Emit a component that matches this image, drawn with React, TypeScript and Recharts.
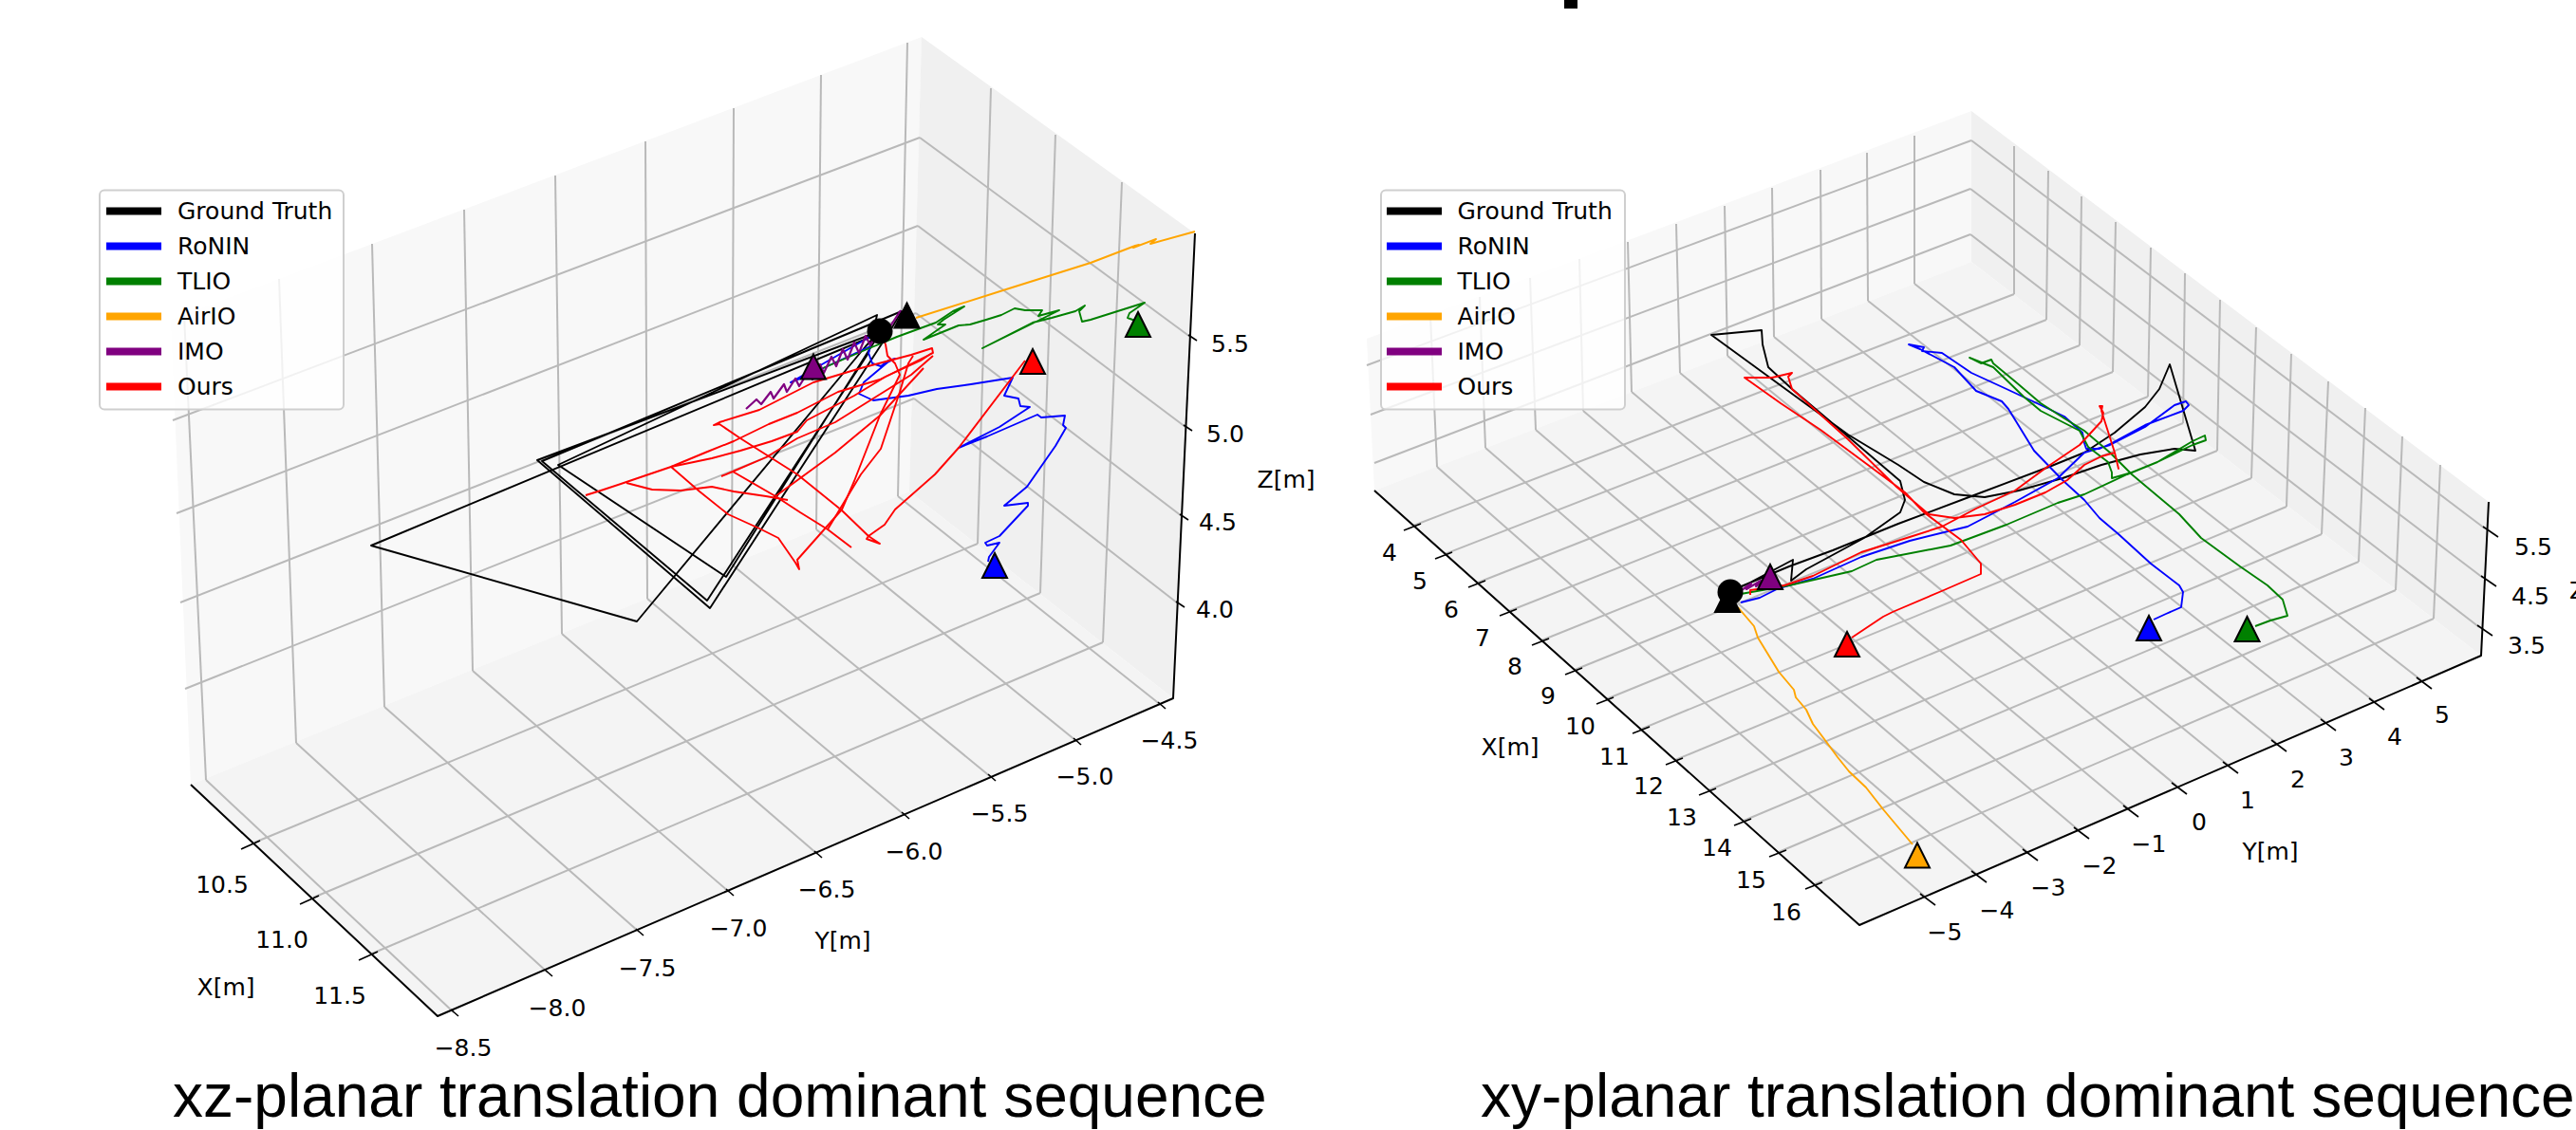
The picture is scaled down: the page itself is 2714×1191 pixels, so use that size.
import React from 'react'
import { ScatterChart, Scatter, XAxis, YAxis } from 'recharts'

type Row = number[]

const WIDTH = 2714
const HEIGHT = 1191

const seriesNames = ['Ground Truth', 'RoNIN', 'TLIO', 'AirIO', 'IMO', 'Ours']
const seriesColors = ['#000000', '#0000ff', '#008000', '#ffa500', '#800080', '#ff0000']
const legendRows = [222.5, 259.5, 296.5, 333.5, 370.5, 407.5]

// left panel box
const leftWallA: Row[] = [[180, 337], [971, 39], [958, 518], [201, 827]]
const leftWallB: Row[] = [[971, 39], [1259, 246], [1236, 736], [958, 518]]
const leftFloor: Row[] = [[958, 518], [1236, 736], [461, 1071], [201, 827]]

const leftYTop: Row[] = [[194, 332], [294, 294], [392, 257], [489, 221], [585, 185], [680, 149], [773, 114], [865, 79], [956, 45]]
const leftYBase: Row[] = [[217, 822], [312, 783], [405, 745], [498, 707], [592, 668], [682, 631], [771, 595], [860, 558], [946, 523]]
const leftYTick: Row[] = [[478, 1067], [577, 1025], [673, 982], [768, 940], [861, 900], [953, 859], [1044, 819], [1134, 781], [1223, 743]]
const leftYLabels = ['−8.5', '−8.0', '−7.5', '−7.0', '−6.5', '−6.0', '−5.5', '−5.0', '−4.5']
const leftYLabelPos: Row[] = [[488, 1104], [587, 1062], [682, 1020], [778, 978], [871, 937], [963, 897], [1053, 857], [1143, 818], [1232, 780]]

const leftXTick: Row[] = [[268, 888], [330, 946], [392, 1005]]
const leftXBase: Row[] = [[1030, 573], [1096, 625], [1162, 677]]
const leftXTop: Row[] = [[1044, 93], [1112, 142], [1182, 192]]
const leftXLabels = ['10.5', '11.0', '11.5']
const leftXLabelPos: Row[] = [[234, 932], [297, 990], [358, 1049]]

const leftZBack: Row[] = [[969, 145], [967, 238], [965, 330], [963, 420]]
const leftZEdge: Row[] = [[182, 443], [186, 541], [190, 635], [195, 726]]
const leftZTick: Row[] = [[1254, 355], [1249, 450], [1245, 544], [1241, 636]]
const leftZLabels = ['5.5', '5.0', '4.5', '4.0']
const leftZLabelPos: Row[] = [[1296, 362], [1291, 457], [1283, 550], [1280, 642]]

// left panel trajectories
const leftTruth: Row[] = [[927, 349], [566, 485], [748, 641], [937, 350], [950, 328], [571, 486], [745, 633], [915, 372], [924, 332], [588, 490], [765, 608], [920, 362], [925, 352], [391, 575], [671, 655], [912, 365], [927, 349]]
const leftRonin: Row[] = [[927, 349], [833, 403], [850, 396], [917, 365], [915, 372], [919, 383], [928, 386], [936, 380], [943, 378], [935, 382], [910, 403], [905, 415], [920, 422], [957, 417], [987, 410], [1023, 405], [1067, 398], [1058, 417], [1073, 420], [1075, 428], [1085, 429], [1053, 450], [1010, 472], [1040, 460], [1093, 437], [1097, 440], [1122, 438], [1120, 448], [1123, 451], [1112, 470], [1082, 513], [1058, 533], [1083, 530], [1083, 533], [1053, 565], [1038, 572], [1040, 575], [1053, 572], [1042, 587], [1041, 592]]
const leftTlio: Row[] = [[867, 388], [916, 367], [945, 355], [986, 340], [1004, 328], [1016, 323], [994, 337], [988, 342], [996, 342], [973, 358], [1010, 343], [1022, 342], [1039, 337], [1055, 332], [1069, 325], [1080, 327], [1098, 327], [1094, 333], [1116, 327], [1035, 367], [1088, 340], [1108, 335], [1133, 328], [1143, 322], [1137, 328], [1140, 339], [1149, 337], [1206, 319], [1190, 330], [1188, 335], [1196, 338]]
const leftAirio: Row[] = [[965, 335], [1060, 305], [1149, 277], [1196, 259], [1200, 258], [1194, 261], [1218, 252], [1212, 257], [1259, 244]]
const leftImo: Row[] = [[786, 431], [797, 421], [802, 426], [812, 413], [815, 420], [826, 405], [829, 413], [838, 399], [842, 407], [852, 391], [856, 400], [864, 384], [868, 393], [876, 376], [881, 386], [888, 368], [893, 379], [900, 361], [905, 372], [912, 354], [917, 364], [925, 347], [930, 356], [949, 327]]
const leftOursA: Row[] = [[927, 349], [933, 363], [935, 375], [943, 383], [948, 395], [927, 438], [900, 507], [887, 537], [840, 590], [842, 600], [838, 593], [820, 567], [800, 557], [767, 542], [737, 518], [707, 492], [743, 477], [773, 465], [810, 447], [840, 435], [883, 413], [927, 400], [983, 372], [982, 367], [960, 374], [907, 388], [857, 403], [800, 432], [758, 445], [752, 448], [758, 447], [780, 462], [840, 500], [887, 538], [915, 565], [927, 573], [913, 568], [915, 565], [932, 553], [943, 537], [985, 500], [1010, 472], [1080, 380]]
const leftOursB: Row[] = [[617, 522], [633, 517], [660, 508], [707, 492], [750, 483], [780, 475], [813, 465], [840, 455], [850, 443], [900, 417], [933, 397], [970, 380], [982, 372]]
const leftOursC: Row[] = [[660, 509], [687, 516], [717, 517], [750, 513], [773, 518], [807, 523], [830, 527]]
const leftOursD: Row[] = [[760, 502], [772, 497], [807, 482], [840, 462], [880, 445], [920, 420], [960, 395], [983, 375]]
const leftOursE: Row[] = [[772, 497], [817, 523], [843, 540], [872, 558], [897, 577]]
const leftOursF: Row[] = [[872, 558], [907, 500], [928, 473], [948, 413], [957, 383], [962, 375]]
const leftOursG: Row[] = [[817, 523], [880, 477], [927, 438], [973, 388]]

// right panel box
const rightWallA: Row[] = [[1440, 357], [2077, 117], [2077, 276], [1448, 517]]
const rightWallB: Row[] = [[2077, 117], [2622, 529], [2614, 691], [2077, 276]]
const rightFloor: Row[] = [[2077, 276], [2614, 691], [1959, 975], [1448, 517]]

const rightYTop: Row[] = [[1507, 333], [1559, 313], [1612, 293], [1664, 273], [1715, 255], [1766, 236], [1817, 217], [1867, 198], [1918, 179], [1967, 161], [2017, 143]]
const rightYBase: Row[] = [[1514, 492], [1565, 472], [1618, 453], [1668, 433], [1719, 413], [1770, 393], [1820, 375], [1869, 355], [1919, 336], [1968, 317], [2017, 299]]
const rightYTick: Row[] = [[2028, 945], [2082, 921], [2136, 898], [2190, 875], [2242, 852], [2293, 828], [2347, 806], [2398, 783], [2450, 761], [2501, 739], [2551, 717]]
const rightYLabels = ['−5', '−4', '−3', '−2', '−1', '0', '1', '2', '3', '4', '5']
const rightYLabelPos: Row[] = [[2049, 982], [2104, 959], [2158, 935], [2212, 912], [2264, 889], [2317, 866], [2368, 843], [2421, 821], [2472, 798], [2523, 776], [2573, 753]]

const rightXTick: Row[] = [[1489, 554], [1522, 584], [1557, 614], [1590, 644], [1624, 675], [1659, 706], [1692, 737], [1730, 768], [1765, 801], [1800, 833], [1837, 865], [1874, 898], [1912, 932]]
const rightXBase: Row[] = [[2122, 310], [2156, 337], [2191, 364], [2226, 392], [2263, 418], [2300, 446], [2336, 475], [2372, 504], [2409, 534], [2446, 563], [2485, 592], [2524, 622], [2564, 652]]
const rightXTop: Row[] = [[2122, 154], [2158, 180], [2193, 207], [2229, 234], [2266, 261], [2302, 288], [2339, 316], [2377, 345], [2414, 373], [2453, 402], [2492, 430], [2531, 460], [2571, 490]]
const rightXLabels = ['4', '5', '6', '7', '8', '9', '10', '11', '12', '13', '14', '15', '16']
const rightXLabelPos: Row[] = [[1464, 582], [1496, 612], [1529, 642], [1562, 672], [1596, 702], [1631, 733], [1665, 765], [1701, 797], [1737, 828], [1772, 861], [1809, 893], [1845, 927], [1882, 961]]

const rightZBack: Row[] = [[2077, 148], [2076, 199], [2076, 247]]
const rightZEdge: Row[] = [[1440, 385], [1444, 437], [1448, 488]]
const rightZTick: Row[] = [[2618, 557], [2616, 609], [2612, 661]]
const rightZLabels = ['5.5', '4.5', '3.5']
const rightZLabelPos: Row[] = [[2669, 576], [2666, 628], [2662, 680]]

// right panel trajectories
const rightTruth: Row[] = [[1825, 622], [1885, 597], [1931, 580], [2000, 552], [2077, 523], [2159, 492], [2196, 477], [2228, 456], [2260, 429], [2275, 410], [2286, 384], [2313, 475], [2291, 473], [2255, 479], [2214, 490], [2173, 504], [2127, 517], [2091, 524], [2059, 521], [2027, 508], [2000, 490], [1947, 458], [1803, 353], [1856, 348], [1857, 363], [1863, 387], [1888, 410], [1947, 460], [2002, 507], [2007, 527], [2002, 540], [1964, 567], [1903, 600], [1887, 612], [1889, 590], [1840, 616], [1825, 622]]
const rightRonin: Row[] = [[2269, 653], [2282, 647], [2298, 640], [2300, 624], [2296, 617], [2266, 594], [2232, 563], [2212, 546], [2196, 527], [2173, 506], [2143, 475], [2116, 431], [2109, 423], [2082, 412], [2059, 387], [2023, 368], [2011, 363], [2027, 366], [2025, 370], [2046, 372], [2077, 393], [2114, 410], [2146, 425], [2175, 439], [2194, 456], [2196, 467], [2198, 473], [2212, 473], [2225, 467], [2260, 448], [2300, 433], [2306, 427], [2303, 423], [2291, 427], [2260, 450], [2223, 469], [2196, 477], [2168, 504], [2123, 529], [2073, 555], [2012, 570], [1961, 587], [1910, 610], [1874, 620], [1854, 630], [1834, 635]]
const rightTlio: Row[] = [[1834, 626], [1885, 617], [1951, 602], [1977, 590], [2055, 575], [2114, 553], [2168, 530], [2196, 521], [2241, 500], [2273, 487], [2310, 469], [2324, 464], [2323, 459], [2310, 465], [2273, 487], [2246, 498], [2225, 504], [2225, 498], [2221, 487], [2200, 471], [2191, 454], [2150, 433], [2132, 418], [2100, 387], [2075, 377], [2087, 383], [2098, 379], [2100, 383], [2123, 402], [2150, 425], [2175, 441], [2196, 454], [2223, 477], [2246, 500], [2296, 542], [2319, 567], [2360, 597], [2389, 617], [2405, 632], [2410, 649], [2392, 654], [2376, 660]]
const rightAirio: Row[] = [[1831, 640], [1848, 660], [1852, 672], [1874, 708], [1890, 727], [1892, 735], [1903, 748], [1910, 763], [1925, 783], [1936, 798], [1948, 813], [1966, 830], [1984, 853], [2015, 890]]
const rightImo: Row[] = [[1832, 624], [1845, 615], [1840, 621], [1855, 612], [1850, 618], [1862, 610]]
const rightOurs: Row[] = [[1844, 627], [1844, 622], [1880, 617], [1910, 607], [1961, 582], [2012, 566], [2046, 555], [2082, 536], [2123, 517], [2157, 492], [2191, 469], [2214, 444], [2216, 435], [2212, 428], [2215, 428], [2214, 433], [2228, 477], [2232, 494], [2228, 477], [2214, 481], [2196, 490], [2178, 506], [2155, 519], [2123, 532], [2091, 542], [2059, 546], [2032, 542], [1998, 513], [1947, 463], [1888, 410], [1884, 397], [1888, 393], [1867, 398], [1838, 398], [1876, 425], [1918, 453], [1968, 490], [2007, 519], [2027, 540], [2066, 569], [2087, 594], [2087, 605], [2048, 622], [1994, 645], [1984, 650], [1951, 672]]

// end-of-run triangles, order follows seriesColors
const leftEnds: Row[] = [[955.5, 332.5], [1048, 596], [1199, 342], [857, 386.5], [1088, 381]]
const leftEndColors = ['#000000', '#0000ff', '#008000', '#800080', '#ff0000']
const rightEnds: Row[] = [[1820, 632], [2264, 662], [2367.5, 663], [2020, 901.5], [1865, 608], [1946, 679]]
const startDots: Row[] = [[927, 349], [1823, 624]]

const cutTitleGlyph: Row[] = [[1648, 0], [1662, 0], [1662, 9], [1648, 9]]

const titles = ['xz-planar translation dominant sequence', 'xy-planar translation dominant sequence']
const titlePos: Row[] = [[182, 1177], [1560, 1177]]

const GRID = '#b9b9b9'
const TICK_FONT = '"DejaVu Sans"'
const TICK_SIZE = 25

const toPoints = (rows: Row[]) => rows.map(([x, y]) => ({ x, y }))
const NoMark = () => <g />

let uid = 0
function trace(rows: Row[], stroke: string, strokeWidth = 1.9) {
  return (
    <Scatter
      key={`t${uid++}`}
      data={toPoints(rows)}
      dataKey="y"
      lineType="joint"
      line={{ stroke, strokeWidth, fill: 'none', strokeLinejoin: 'round' }}
      shape={NoMark}
      isAnimationActive={false}
    />
  )
}

function pane(rows: Row[], fill: string) {
  return (
    <Scatter
      key={`p${uid++}`}
      data={toPoints([...rows, rows[0]])}
      dataKey="y"
      lineType="joint"
      line={{ stroke: 'none', fill }}
      shape={NoMark}
      isAnimationActive={false}
    />
  )
}

const segments = (a: Row[], b: Row[], stroke = GRID, w = 2) => a.map((p, i) => trace([p, b[i]], stroke, w))

const tickMarks = (anchors: Row[], from: Row, to: Row) =>
  anchors.map(p => trace([[p[0] + from[0], p[1] + from[1]], [p[0] + to[0], p[1] + to[1]]], '#000000', 1.6))

function labels(texts: string[], pos: Row[], fontSize = TICK_SIZE, fontFamily = TICK_FONT, anchor = 'middle', baseline = 'central') {
  const data = texts.map((text, i) => ({ x: pos[i][0], y: pos[i][1], text }))
  const Label = (p: any) => (
    <text x={p.cx} y={p.cy} fontSize={fontSize} fontFamily={fontFamily} textAnchor={anchor} dominantBaseline={baseline} fill="#000">
      {p.payload?.text ?? p.text}
    </text>
  )
  return <Scatter key={`l${uid++}`} data={data} dataKey="y" shape={Label} isAnimationActive={false} />
}

function triangles(rows: Row[], colors: string[]) {
  return rows.map((r, i) => {
    const Tri = (p: any) => (
      <polygon
        points={`${p.cx},${p.cy - 13} ${p.cx + 13},${p.cy + 13} ${p.cx - 13},${p.cy + 13}`}
        fill={colors[i]}
        stroke="#000"
        strokeWidth={2}
        strokeLinejoin="miter"
      />
    )
    return <Scatter key={`m${uid++}`} data={toPoints([r])} dataKey="y" shape={Tri} isAnimationActive={false} />
  })
}

const Dot = (p: any) => <circle cx={p.cx} cy={p.cy} r={13.5} fill="#000" />

function legend(boxLeft: number, boxTop: number, swatchLeft: number, textLeft: number) {
  const Box = (p: any) => (
    <rect x={p.cx} y={p.cy} width={257} height={231} rx={5} fill="#fff" fillOpacity={0.8} stroke="#cfcfcf" strokeWidth={2} />
  )
  return [
    <Scatter key={`b${uid++}`} data={toPoints([[boxLeft, boxTop]])} dataKey="y" shape={Box} isAnimationActive={false} />,
    ...seriesColors.map((c, i) => trace([[swatchLeft, legendRows[i]], [swatchLeft + 58, legendRows[i]]], c, 8)),
    labels(seriesNames, legendRows.map(y => [textLeft, y]), TICK_SIZE, TICK_FONT, 'start'),
  ]
}

export default function App() {
  uid = 0
  return (
    <div style={{ position: 'fixed', left: 0, top: 0, width: WIDTH, height: HEIGHT, background: '#fff', overflow: 'hidden' }}>
      <ScatterChart width={WIDTH} height={HEIGHT} margin={{ top: 0, right: 0, bottom: 0, left: 0 }}>
        <XAxis type="number" dataKey="x" domain={[0, WIDTH]} hide />
        <YAxis type="number" dataKey="y" domain={[0, HEIGHT]} reversed hide />

        {pane(leftWallA, '#f8f8f8')}
        {pane(leftWallB, '#f0f0f0')}
        {pane(leftFloor, '#f4f4f4')}
        {pane(rightWallA, '#f8f8f8')}
        {pane(rightWallB, '#f0f0f0')}
        {pane(rightFloor, '#f4f4f4')}

        {segments(leftYTop, leftYBase)}
        {segments(leftYBase, leftYTick)}
        {segments(leftXTick, leftXBase)}
        {segments(leftXBase, leftXTop)}
        {segments(leftZEdge, leftZBack)}
        {segments(leftZBack, leftZTick)}

        {segments(rightYTop, rightYBase)}
        {segments(rightYBase, rightYTick)}
        {segments(rightXTick, rightXBase)}
        {segments(rightXBase, rightXTop)}
        {segments(rightZEdge, rightZBack)}
        {segments(rightZBack, rightZTick)}

        {trace([[201, 827], [461, 1071], [1236, 736], [1259, 246]], '#000000', 2)}
        {trace([[1448, 517], [1959, 975], [2614, 691], [2622, 529]], '#000000', 2)}

        {tickMarks(leftXTick, [-14, 7], [6, -2])}
        {tickMarks(leftYTick, [-3, -3], [5, 4])}
        {tickMarks(leftZTick, [-2, -2], [7, 4])}
        {tickMarks(rightXTick, [-10, 5], [8, -2])}
        {tickMarks(rightYTick, [-5, -3], [11, 9])}
        {tickMarks(rightZTick, [-2, -2], [14, 9])}

        {labels(leftYLabels, leftYLabelPos)}
        {labels(leftXLabels, leftXLabelPos)}
        {labels(leftZLabels, leftZLabelPos)}
        {labels(rightYLabels, rightYLabelPos)}
        {labels(rightXLabels, rightXLabelPos)}
        {labels(rightZLabels, rightZLabelPos)}
        {labels(['X[m]', 'Y[m]', 'Z[m]', 'X[m]', 'Y[m]'], [[238, 1040], [888, 991], [1355, 505], [1591, 787], [2392, 897]])}
        {labels(['Z[m]'], [[2707, 622]], TICK_SIZE, TICK_FONT, 'start')}

        {trace(leftTruth, seriesColors[0])}
        {trace(leftRonin, seriesColors[1])}
        {trace(leftTlio, seriesColors[2])}
        {trace(leftAirio, seriesColors[3])}
        {trace(leftImo, seriesColors[4], 2.2)}
        {[leftOursA, leftOursB, leftOursC, leftOursD, leftOursE, leftOursF, leftOursG].map(r => trace(r, seriesColors[5]))}

        {trace(rightTruth, seriesColors[0])}
        {trace(rightRonin, seriesColors[1])}
        {trace(rightTlio, seriesColors[2])}
        {trace(rightAirio, seriesColors[3])}
        {trace(rightImo, seriesColors[4], 2.2)}
        {trace(rightOurs, seriesColors[5])}

        {triangles(leftEnds, leftEndColors)}
        {triangles(rightEnds, seriesColors)}
        <Scatter data={toPoints(startDots)} dataKey="y" shape={Dot} isAnimationActive={false} />

        {legend(105, 200.5, 112, 187)}
        {legend(1455, 200.5, 1461, 1535.5)}

        {pane(cutTitleGlyph, '#000000')}
        {labels(titles, titlePos, 64, '"Liberation Sans"', 'start', 'alphabetic')}
      </ScatterChart>
    </div>
  )
}
